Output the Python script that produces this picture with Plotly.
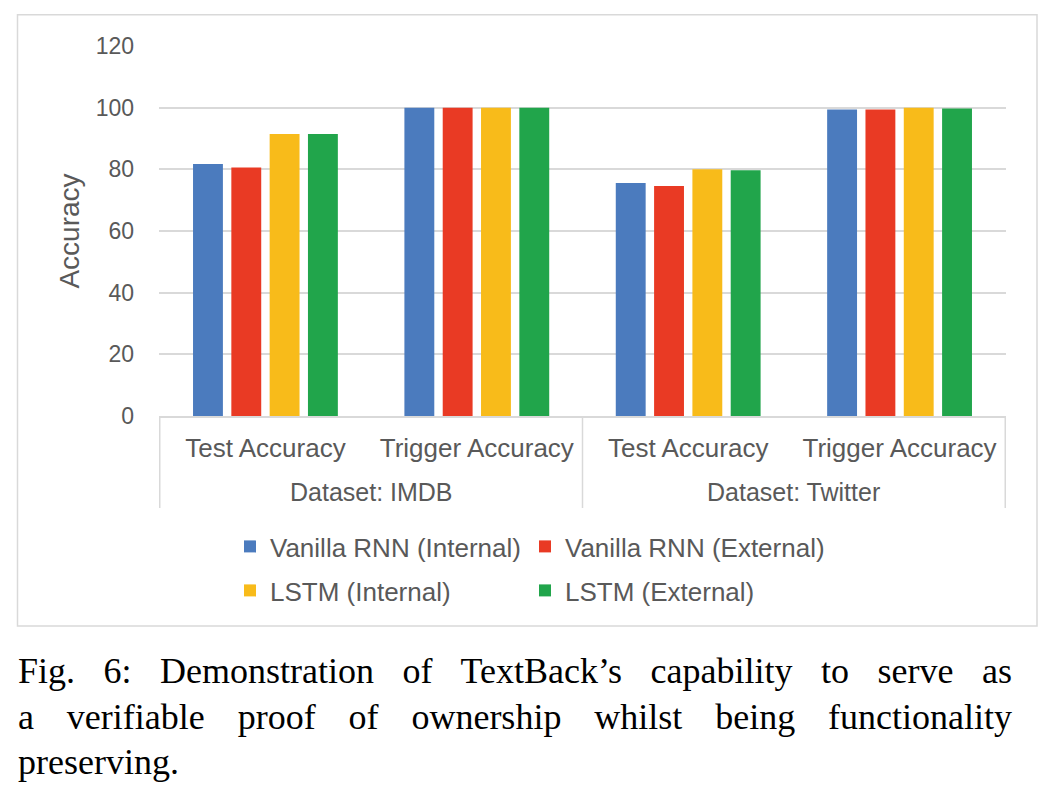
import json
import plotly.graph_objects as go

datasets = ["Dataset: IMDB", "Dataset: Twitter"]
metrics = ["Test Accuracy", "Trigger Accuracy"]
categories = [f"{d} | {m}" for d in datasets for m in metrics]
category_labels = [m for d in datasets for m in metrics]

series_names = ["Vanilla RNN (Internal)", "Vanilla RNN (External)", "LSTM (Internal)", "LSTM (External)"]
vanilla_internal = [81.7, 100, 75.6, 99.4]
vanilla_external = [80.6, 100, 74.6, 99.4]
lstm_internal = [91.5, 100, 80.0, 100]
lstm_external = [91.5, 100, 79.7, 99.7]
series_values = [vanilla_internal, vanilla_external, lstm_internal, lstm_external]
series_legend = ["legend", "legend2", "legend3", "legend4"]
colors = ["#4B7BBE", "#E93A24", "#F8BB1A", "#21A54B"]

y_ticks = [0, 20, 40, 60, 80, 100, 120]

caption_lines = [
    "Fig. 6: Demonstration of TextBack\u2019s capability to serve as",
    "a verifiable proof of ownership whilst being functionality",
    "preserving.",
]

TEXT = "#595959"
GRID = "#D9D9D9"
FONT = "Liberation Sans, Arial, sans-serif"
SERIF = "Liberation Serif, Times New Roman, serif"

fig = go.Figure()
for name, vals, col, lg in zip(series_names, series_values, colors, series_legend):
    fig.add_trace(go.Bar(
        x=categories, y=vals, name=name, legend=lg,
        marker=dict(color=col, line=dict(width=0)),
    ))

# pixel geometry of plot area
L, R, T, B = 159, 1006, 46, 416
W, H = 1050, 796
pw, ph = R - L, B - T

def px(x):
    return (x - L) / pw

def py(y):
    return (B - y) / ph

legend_common = dict(
    orientation="h", xanchor="left", yanchor="top",
    font=dict(size=26, color=TEXT, family=FONT),
    itemwidth=30, bgcolor="rgba(0,0,0,0)",
)
col_x = [px(230), px(525)]
row_y = [py(523), py(567)]

fig.update_layout(
    width=W, height=H,
    margin=dict(l=L, r=W - R, t=T, b=H - B, pad=0),
    paper_bgcolor="white", plot_bgcolor="white",
    barmode="group", bargap=0.275, bargroupgap=0.22,
    font=dict(family=FONT, color=TEXT),
    showlegend=True,
    legend=dict(x=col_x[0], y=row_y[0], **legend_common),
    legend2=dict(x=col_x[1], y=row_y[0], **legend_common),
    legend3=dict(x=col_x[0], y=row_y[1], **legend_common),
    legend4=dict(x=col_x[1], y=row_y[1], **legend_common),
)

fig.update_xaxes(
    type="category",
    tickvals=categories, ticktext=category_labels,
    showline=True, linecolor=GRID, linewidth=1.5,
    ticks="", showgrid=False,
    tickfont=dict(size=26, color=TEXT, family=FONT),
    ticklabelstandoff=8,
)
fig.update_yaxes(
    range=[0, 120], tickvals=y_ticks, ticktext=[str(v) for v in y_ticks],
    showgrid=True, gridcolor=GRID, gridwidth=1.5,
    zeroline=False, showline=False, ticks="",
    tickfont=dict(size=23, color=TEXT, family=FONT),
    ticklabelstandoff=24,
    title=dict(text="Accuracy", font=dict(size=28, color=TEXT, family=FONT), standoff=7),
)

# group dividers below the axis
n_per_group = len(metrics)
divider_positions = [-0.5] + [g * n_per_group + n_per_group - 0.5 for g in range(len(datasets))]
for xv in divider_positions:
    fig.add_shape(type="line", xref="x", yref="paper", x0=xv, x1=xv, y0=0, y1=py(508),
                  line=dict(color=GRID, width=1.5))

# outer group labels
for g, d in enumerate(datasets):
    fig.add_annotation(
        text=d, xref="x", yref="paper",
        x=g * n_per_group + (n_per_group - 1) / 2, y=py(492),
        xanchor="center", yanchor="middle", showarrow=False,
        font=dict(size=25, color=TEXT, family=FONT),
    )

# outer border of chart area
fig.add_shape(type="rect", xref="paper", yref="paper",
              x0=px(17.5), x1=px(1037), y0=py(626), y1=py(14.7),
              line=dict(color=GRID, width=1.5), fillcolor="rgba(0,0,0,0)", layer="below")

# caption
for i, line in enumerate(caption_lines):
    fig.add_annotation(
        text=line, xref="paper", yref="paper",
        x=px(16), y=py(671 + 45.5 * i), xanchor="left", yanchor="middle", align="left",
        showarrow=False,
        font=dict(family=SERIF, size=36, color="black"),
    )

# justify the first two caption lines (full-width, like the typeset caption)
justify_targets = {caption_lines[0]: 994, caption_lines[1]: 994}
post = """
document.body.style.margin = '0';
document.body.style.padding = '0';
var gd = document.getElementById('{plot_id}');
var targets = %s;
function justifyCaption() {
  gd.querySelectorAll('text.annotation-text').forEach(function (t) {
    var s = t.textContent;
    if (targets.hasOwnProperty(s)) {
      t.style.wordSpacing = '0px';
      var w = t.getComputedTextLength();
      var n = (s.match(/ /g) || []).length;
      if (n > 0) { t.style.wordSpacing = ((targets[s] - w) / n) + 'px'; }
    }
  });
}
justifyCaption();
if (gd.on) { gd.on('plotly_afterplot', justifyCaption); }
""" % json.dumps(justify_targets)

fig.write_html("out.html", post_script=post, config={"displayModeBar": False})
